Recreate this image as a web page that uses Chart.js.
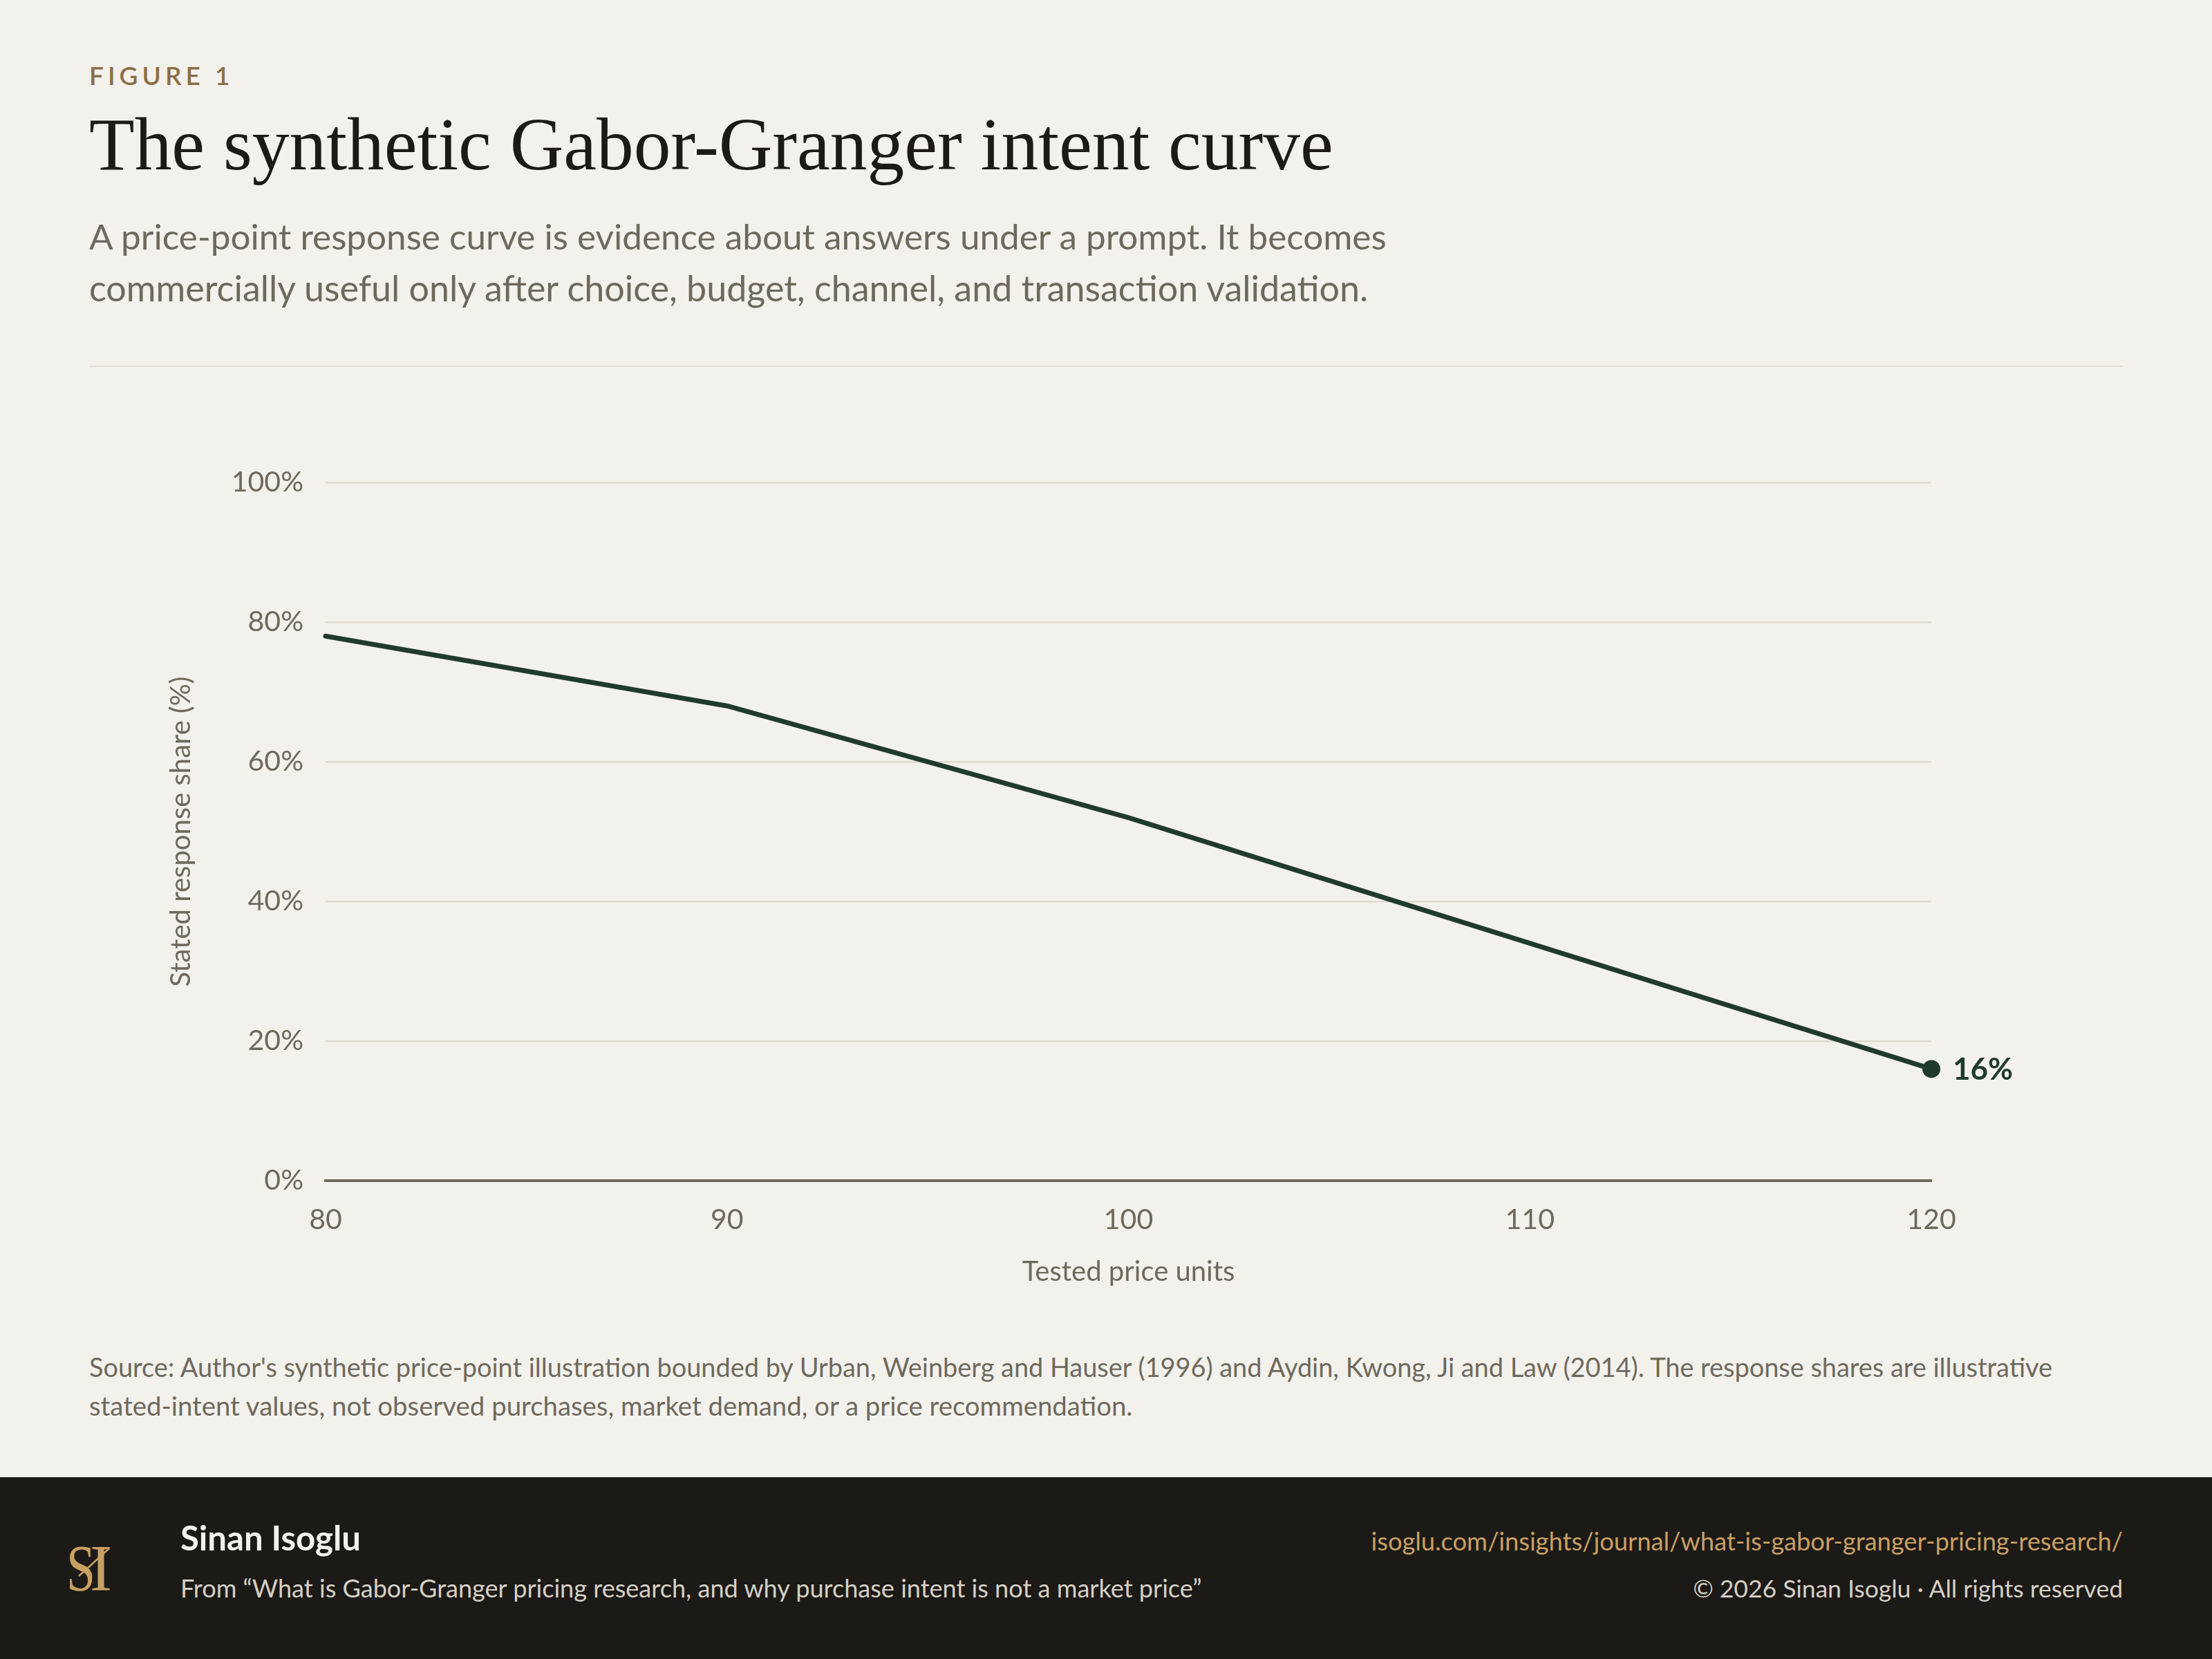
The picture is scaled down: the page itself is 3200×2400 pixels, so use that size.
<!DOCTYPE html>
<html lang="en">
<head>
    <meta charset="UTF-8">
    <title>The synthetic Gabor-Granger intent curve</title>
    <style>
        body {
            margin: 0;
            width: 3200px;
            height: 2400px;
            position: relative;
            overflow: hidden;
            background-color: #f3f1ec;
            font-family: Lato, "Noto Sans", sans-serif;
        }

        .t {
            position: absolute;
            top: 0;
            margin: 0;
            white-space: nowrap;
            line-height: 1;
        }

        .bl {
            display: inline-block;
            width: 0;
            height: 0;
            vertical-align: baseline;
        }

        .kicker { left: 129px; color: #8c6e45; font-size: 37px; font-weight: 600; letter-spacing: 6px; }
        .title { left: 129px; color: #1c1a17; font-family: "Liberation Serif", serif; font-size: 108px; font-weight: 400; }
        .sub { left: 129px; color: #6e695d; font-size: 46px; }
        .note { left: 129px; color: #6e695d; font-size: 35px; }

        .rule {
            position: absolute;
            left: 129px;
            top: 529px;
            width: 2942px;
            height: 2px;
            background-color: #e3dfd6;
        }

        .chart-box {
            position: absolute;
            left: 129px;
            top: 600px;
            width: 2942px;
            height: 1300px;
        }

        .footer {
            position: absolute;
            left: 0;
            top: 2137px;
            width: 3200px;
            height: 263px;
            background-color: #1c1a17;
        }

        .logo { position: absolute; left: 96px; top: 2234px; }
        .name { left: 261px; color: #f3f1ec; font-size: 44px; font-weight: 700; }
        .from { left: 261px; color: #d5d0c5; font-size: 34px; }
        .url { color: #c9a063; font-size: 35px; }
        .copy { color: #d5d0c5; font-size: 34px; }
    </style>

    <script src="https://cdn.jsdelivr.net/npm/chart.js"></script>
</head>
<body>

    <div class="t kicker" data-base="123">FIGURE 1</div>
    <h1 class="t title" data-base="245" data-fit="1800">The synthetic Gabor-Granger intent curve</h1>
    <div class="t sub" data-base="361" data-fit="1877">A price-point response curve is evidence about answers under a prompt. It becomes</div>
    <div class="t sub" data-base="436" data-fit="1851">commercially useful only after choice, budget, channel, and transaction validation.</div>
    <div class="rule"></div>

    <div class="chart-box">
        <canvas id="intentChart"></canvas>
    </div>

    <div class="t note" data-base="1992" data-fit="2841">Source: Author's synthetic price-point illustration bounded by Urban, Weinberg and Hauser (1996) and Aydin, Kwong, Ji and Law (2014). The response shares are illustrative</div>
    <div class="t note" data-base="2048" data-fit="1510">stated-intent values, not observed purchases, market demand, or a price recommendation.</div>

    <div class="footer"></div>
    <svg class="logo" width="70" height="70" viewBox="0 0 70 70">
        <g fill="#c9a063" font-family="Liberation Serif, serif">
            <text x="0" y="67" font-size="96" textLength="42" lengthAdjust="spacingAndGlyphs">S</text>
            <text x="34" y="67" font-size="96" textLength="32" lengthAdjust="spacingAndGlyphs">I</text>
        </g>
        <line x1="18" y1="46" x2="62" y2="6" stroke="#c9a063" stroke-width="2.5"/>
    </svg>
    <div class="t name" data-base="2243" data-fit="261">Sinan Isoglu</div>
    <div class="t from" data-base="2311" data-fit="1478">From “What is Gabor-Granger pricing research, and why purchase intent is not a market price”</div>
    <div class="t url" data-base="2243" data-fit="1088" data-right="3071">isoglu.com/insights/journal/what-is-gabor-granger-pricing-research/</div>
    <div class="t copy" data-base="2311" data-fit="622" data-right="3071">© 2026 Sinan Isoglu · All rights reserved</div>

    <script>
        // Tested price points and stated purchase intent (%)
        const prices = [80, 90, 100, 110, 120];
        const intent = [78, 68, 52, 34, 16];
        const yTicks = [0, 20, 40, 60, 80, 100];
        const xTicks = [80, 90, 100, 110, 120];

        const ink = '#1f3b2e';
        const muted = '#6e695d';

        // Size each text line to its width in the figure and sit it on its baseline
        function placeText() {
            document.querySelectorAll('.t').forEach(el => {
                const fit = +el.dataset.fit;
                if (fit) {
                    const size = parseFloat(getComputedStyle(el).fontSize);
                    el.style.fontSize = (size * fit / el.getBoundingClientRect().width) + 'px';
                }
                if (el.dataset.right) {
                    el.style.left = (el.dataset.right - el.getBoundingClientRect().width) + 'px';
                }
                const mark = document.createElement('i');
                mark.className = 'bl';
                el.appendChild(mark);
                const offset = mark.getBoundingClientRect().bottom - el.getBoundingClientRect().top;
                el.style.top = (+el.dataset.base - offset) + 'px';
                mark.remove();
            });
        }

        // Label the last point with its value
        const endLabel = {
            id: 'endLabel',
            afterDatasetsDraw(chart) {
                const meta = chart.getDatasetMeta(0);
                const last = meta.data.length - 1;
                const pt = meta.data[last];
                const ctx = chart.ctx;
                ctx.save();
                ctx.font = '700 44px Lato';
                ctx.fillStyle = ink;
                ctx.textAlign = 'left';
                ctx.textBaseline = 'middle';
                ctx.fillText(intent[last] + '%', pt.x + 31, pt.y + 1);
                ctx.restore();
            }
        };

        function drawChart() {
            Chart.defaults.font.family = 'Lato';
            Chart.defaults.color = muted;

            const ctx = document.getElementById('intentChart').getContext('2d');
            new Chart(ctx, {
                type: 'line',
                data: {
                    datasets: [{
                        label: 'Stated response share',
                        data: prices.map((p, i) => ({ x: p, y: intent[i] })),
                        borderColor: ink,
                        backgroundColor: ink,
                        borderWidth: 7,
                        borderCapStyle: 'round',
                        borderJoinStyle: 'round',
                        tension: 0,
                        clip: false,
                        pointRadius: c => c.dataIndex === intent.length - 1 ? 13 : 0,
                        pointHoverRadius: c => c.dataIndex === intent.length - 1 ? 13 : 0,
                        pointBorderWidth: 0,
                        pointBackgroundColor: ink
                    }]
                },
                options: {
                    responsive: true,
                    maintainAspectRatio: false,
                    animation: false,
                    events: [],
                    layout: { padding: { top: 98, right: 277, bottom: 0, left: 0 } },
                    plugins: {
                        legend: { display: false },
                        tooltip: { enabled: false }
                    },
                    scales: {
                        x: {
                            type: 'linear',
                            min: prices[0],
                            max: prices[prices.length - 1],
                            afterBuildTicks: s => { s.ticks = xTicks.map(v => ({ value: v })); },
                            afterFit: s => { s.height = 192; },
                            grid: { display: false, drawTicks: false },
                            border: { display: true, color: muted, width: 4 },
                            ticks: { padding: 32, font: { size: 41 }, color: muted },
                            title: {
                                display: true,
                                text: 'Tested price units',
                                font: { size: 40 },
                                color: muted,
                                padding: { top: 0, bottom: 36 }
                            }
                        },
                        y: {
                            min: 0,
                            max: 100,
                            afterBuildTicks: s => { s.ticks = yTicks.map(v => ({ value: v })); },
                            afterFit: s => { s.width = 342; },
                            grid: {
                                drawTicks: false,
                                color: c => c.tick.value === 0 ? muted : '#dedacf',
                                lineWidth: c => c.tick.value === 0 ? 4 : 2.5
                            },
                            border: { display: false },
                            ticks: {
                                padding: 32,
                                font: { size: 41 },
                                color: muted,
                                callback: v => v + '%'
                            },
                            title: {
                                display: true,
                                text: 'Stated response share (%)',
                                font: { size: 40 },
                                color: muted,
                                padding: { top: 109, bottom: 0 }
                            }
                        }
                    }
                },
                plugins: [endLabel]
            });
        }

        placeText();
        drawChart();
    </script>

</body>
</html>
